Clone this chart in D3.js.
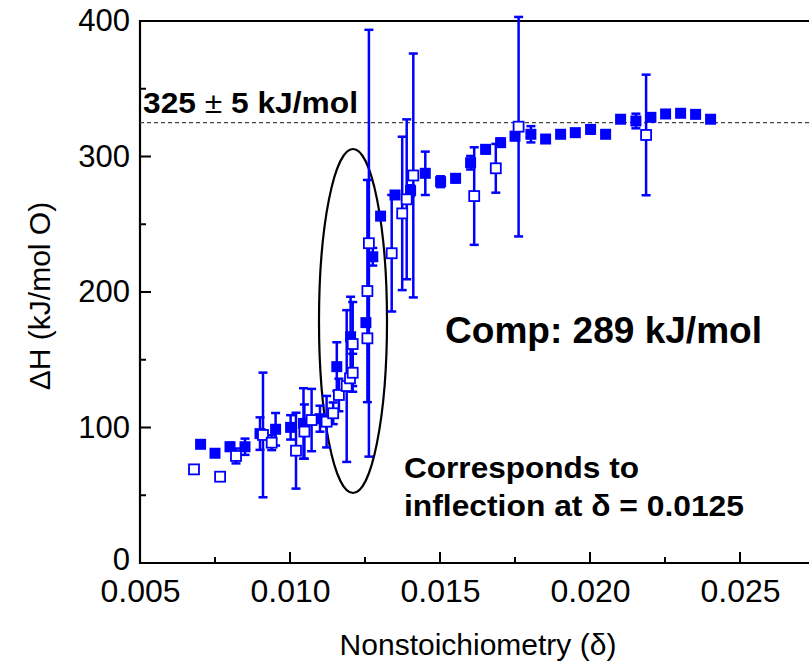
<!DOCTYPE html>
<html><head><meta charset="utf-8">
<script src="https://cdn.jsdelivr.net/npm/d3@7"></script>
<style>body{margin:0;background:#fff}svg{display:block}text{font-family:Arial,"Liberation Sans",sans-serif}</style>
</head><body>
<svg id="c" width="809" height="665"></svg>
<script>
// filled squares: [delta, dH, err]
const filledX = [0.00702,0.0075,0.0080,0.0085,0.0090,0.00952,0.01002,0.01045,0.0110,0.01156,0.01202,0.01253,0.01276,0.01302,0.0135,0.01402,0.01451,0.01502,0.01552,0.01602,0.01652,0.01702,0.0175,0.01803,0.01852,0.01902,0.01951,0.02002,0.02052,0.02102,0.02153,0.02203,0.02252,0.02302,0.02352,0.02402];
const filledY = [87.6,81,85.8,85.8,95.5,98.7,100.1,103,106.5,144.9,167,177.4,226,256,271.6,274.8,287.6,281.4,283.9,295.4,305.3,310.2,315,316.4,312.9,316.4,317.6,320,316.4,327.5,326.2,328.9,331.4,331.9,331.1,327.5];
const filledErr = [0,0,3,6,12,12,9,26,9.6,18,29.5,0,6.5,0,2,4,16,4,3,5,3,3,3,6,2,2,2,3,2,2,5.4,2,2,2,2,2];
// open squares
const openX = [0.0068,0.00767,0.0082,0.0091,0.00939,0.0102,0.01048,0.01072,0.01122,0.01144,0.01163,0.01189,0.0120,0.01209,0.01209,0.01258,0.01258,0.01263,0.01339,0.01374,0.01389,0.01411,0.01614,0.01686,0.01762,0.02187];
const openY = [69.1,63.7,79,94.5,88.8,82.9,97,105.5,104.3,110.5,124,130.6,136.3,140.4,161.6,165.8,200.7,236,228.6,258,268.4,286,270.8,291.3,322,315.9];
const openErr = [0,0,5.5,46,5.5,28,20,23,19,8,12,56,0,14,31,0,82,157.5,43,56.6,59,90,36,18,81,44.5];
const xMajor = [0.005,0.010,0.015,0.020,0.025];
const xMinor = [0.0075,0.0125,0.0175,0.0225];
const yMajor = [0,100,200,300,400];
const yMinor = [50,150,250,350];

const svg = d3.select("#c");
const x = d3.scaleLinear().domain([0.005,0.03]).range([140,890]);
const y = d3.scaleLinear().domain([0,400]).range([563,21]);
const blue = "#0000ff";

// axes lines
svg.append("line").attr("x1",x(0.005)).attr("x2",809).attr("y1",y(0)).attr("y2",y(0)).attr("stroke","#000").attr("stroke-width",2.2);
svg.append("line").attr("x1",x(0.005)).attr("x2",809).attr("y1",y(400)).attr("y2",y(400)).attr("stroke","#000").attr("stroke-width",2.2);
svg.append("line").attr("x1",x(0.005)).attr("x2",x(0.005)).attr("y1",y(0)+1).attr("y2",y(400)-1).attr("stroke","#000").attr("stroke-width",2.2);

// x ticks
const xa = d3.axisBottom(x).tickValues(xMajor).tickSize(0).tickPadding(0).tickFormat(d3.format(".3f"));
const gx = svg.append("g").attr("transform",`translate(0,${y(0)})`).call(xa);
gx.select(".domain").remove();
gx.selectAll("text").attr("font-size",32).attr("fill","#000").attr("y",39).attr("dy",null).attr("font-family","Arial, Liberation Sans");
svg.selectAll(".xmaj").data(xMajor).join("line").attr("x1",d=>x(d)).attr("x2",d=>x(d)).attr("y1",y(0)).attr("y2",y(0)-11).attr("stroke","#000").attr("stroke-width",2);
svg.selectAll(".xmin").data(xMinor).join("line").attr("x1",d=>x(d)).attr("x2",d=>x(d)).attr("y1",y(0)).attr("y2",y(0)-6).attr("stroke","#000").attr("stroke-width",2);

// y ticks
const ya = d3.axisLeft(y).tickValues(yMajor).tickSize(0).tickPadding(10);
const gy = svg.append("g").attr("transform",`translate(${x(0.005)},0)`).call(ya);
gy.select(".domain").remove();
gy.selectAll("text").attr("font-size",31).attr("fill","#000").attr("font-family","Arial, Liberation Sans");
gy.selectAll(".tick").filter(d=>d===0).select("text").attr("dy","0.2em");
svg.append("g").selectAll("line").data(yMajor).join("line").attr("x1",x(0.005)).attr("x2",x(0.005)+11).attr("y1",d=>y(d)).attr("y2",d=>y(d)).attr("stroke","#000").attr("stroke-width",2);
svg.append("g").selectAll("line").data(yMinor).join("line").attr("x1",x(0.005)).attr("x2",x(0.005)+6).attr("y1",d=>y(d)).attr("y2",d=>y(d)).attr("stroke","#000").attr("stroke-width",2);

// axis titles
svg.append("text").attr("x",478).attr("y",655).attr("text-anchor","middle").attr("font-size",30).text("Nonstoichiometry (δ)");
svg.append("text").attr("transform","translate(50,296) rotate(-90)").attr("text-anchor","middle").attr("font-size",30).text("ΔH (kJ/mol O)");

// dashed reference line
svg.append("line").attr("x1",x(0.005)).attr("x2",809).attr("y1",y(325)).attr("y2",y(325)).attr("stroke","#444").attr("stroke-width",1.2).attr("stroke-dasharray","4,3");

// ellipse
svg.append("ellipse").attr("cx",x(0.0121)).attr("cy",y(178.6)).attr("rx",34).attr("ry",172).attr("fill","none").attr("stroke","#000").attr("stroke-width",2.2);

// error bars
function errBars(xs,ys,es){
  const g = svg.append("g").attr("stroke",blue).attr("stroke-width",2.5);
  xs.forEach((xv,i)=>{
    const e = es[i]; if(!e) return;
    const px = x(xv), t = y(ys[i]+e), b = y(ys[i]-e);
    g.append("line").attr("x1",px).attr("x2",px).attr("y1",t).attr("y2",b);
    g.append("line").attr("x1",px-4.5).attr("x2",px+4.5).attr("y1",t).attr("y2",t);
    g.append("line").attr("x1",px-4.5).attr("x2",px+4.5).attr("y1",b).attr("y2",b);
  });
}
errBars(filledX,filledY,filledErr);
errBars(openX,openY,openErr);

svg.append("g").selectAll("rect").data(filledX).join("rect")
  .attr("x",(d)=>x(d)-5.5).attr("y",(d,i)=>y(filledY[i])-5.5).attr("width",11).attr("height",11).attr("fill",blue);
svg.append("g").selectAll("rect").data(openX).join("rect")
  .attr("x",(d)=>x(d)-5).attr("y",(d,i)=>y(openY[i])-5).attr("width",10).attr("height",10).attr("fill","#fff").attr("stroke",blue).attr("stroke-width",1.8);

// annotations
svg.append("text").attr("x",143).attr("y",113).attr("font-size",30).attr("font-weight","bold")
  .attr("textLength",215).attr("lengthAdjust","spacingAndGlyphs").html('325 <tspan font-weight="normal">±</tspan> 5 kJ/mol');
svg.append("text").attr("x",445).attr("y",343).attr("font-size",36).attr("font-weight","bold")
  .attr("textLength",317).attr("lengthAdjust","spacingAndGlyphs").text("Comp: 289 kJ/mol");
svg.append("text").attr("x",404).attr("y",478).attr("font-size",30).attr("font-weight","bold")
  .attr("textLength",235).attr("lengthAdjust","spacingAndGlyphs").text("Corresponds to");
svg.append("text").attr("x",404).attr("y",516).attr("font-size",30).attr("font-weight","bold")
  .attr("textLength",340).attr("lengthAdjust","spacingAndGlyphs").text("inflection at δ = 0.0125");
</script>
</body></html>
